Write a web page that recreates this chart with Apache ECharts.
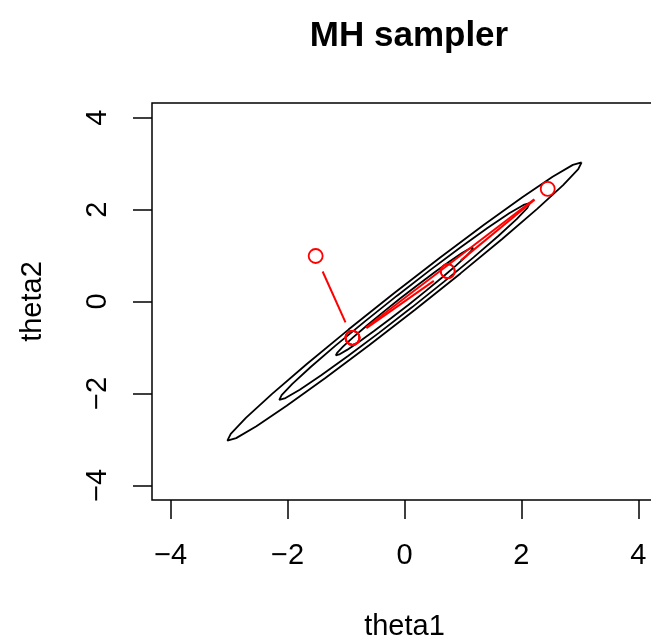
<!DOCTYPE html>
<html>
<head>
<meta charset="utf-8">
<script src="https://cdn.jsdelivr.net/npm/echarts@6/dist/echarts.min.js"></script>
<style>
  html, body { margin: 0; padding: 0; background: #fff; }
  #chart { width: 651px; height: 641px; }
</style>
</head>
<body>
<div id="chart"></div>
<script>
// tick positions shared by both axes
const tickValues = [-4, -2, 0, 2, 4]

// contour lines (50%, 90%, 99% regions)
const contourInner = [
  [1.175, 1.175], [1.117, 1.153], [0.983, 1.053], [0.782, 0.88], [0.527, 0.648], [0.237, 0.371],
  [-0.07, 0.07], [-0.371, -0.237], [-0.648, -0.527], [-0.88, -0.782], [-1.053, -0.983], [-1.153, -1.117],
  [-1.175, -1.175], [-1.117, -1.153], [-0.983, -1.053], [-0.782, -0.88], [-0.527, -0.648], [-0.237, -0.371],
  [0.07, -0.07], [0.371, 0.237], [0.648, 0.527], [0.88, 0.782], [1.053, 0.983], [1.153, 1.117],
  [1.175, 1.175]
]
const contourMiddle = [
  [2.142, 2.142], [2.036, 2.102], [1.792, 1.919], [1.425, 1.605], [0.961, 1.181], [0.432, 0.677],
  [-0.127, 0.127], [-0.677, -0.432], [-1.181, -0.961], [-1.605, -1.425], [-1.919, -1.792], [-2.102, -2.036],
  [-2.142, -2.142], [-2.036, -2.102], [-1.792, -1.919], [-1.425, -1.605], [-0.961, -1.181], [-0.432, -0.677],
  [0.127, -0.127], [0.677, 0.432], [1.181, 0.961], [1.605, 1.425], [1.919, 1.792], [2.102, 2.036],
  [2.142, 2.142]
]
const contourOuter = [
  [3.03, 3.03], [2.88, 2.973], [2.534, 2.714], [2.016, 2.27], [1.36, 1.671], [0.611, 0.958],
  [-0.18, 0.18], [-0.958, -0.611], [-1.671, -1.36], [-2.27, -2.016], [-2.714, -2.534], [-2.973, -2.88],
  [-3.03, -3.03], [-2.88, -2.973], [-2.534, -2.714], [-2.016, -2.27], [-1.36, -1.671], [-0.611, -0.958],
  [0.18, -0.18], [0.958, 0.611], [1.671, 1.36], [2.27, 2.016], [2.714, 2.534], [2.973, 2.88],
  [3.03, 3.03]
]

// MH sampler chain (repeats = rejected proposals)
const mhTheta1 = [-1.52, -0.89, -0.89, -0.89, 2.45, 0.74, 0.74, -0.89]
const mhTheta2 = [0.99, -0.79, -0.79, -0.79, 2.45, 0.66, 0.66, -0.79]

const FONT = '"Liberation Sans", Arial, Helvetica, sans-serif'
const GAP = 17 // px gap between line ends and points, like type = "b"

const chainPoints = mhTheta1.map((x, i) => [x, mhTheta2[i]])
const chainSegments = []
for (let i = 1; i < chainPoints.length; i++) {
  chainSegments.push([...chainPoints[i - 1], ...chainPoints[i]])
}

function minusLabel(v) {
  return v < 0 ? '\u2212' + Math.abs(v) : String(v)
}

function contourSeries(data) {
  return {
    type: 'line',
    data,
    z: 1,
    showSymbol: false,
    smooth: false,
    silent: true,
    lineStyle: { color: '#000', width: 1.8 },
  }
}

const chart = echarts.init(document.getElementById('chart'))

const option = {
  animation: false,
  backgroundColor: '#fff',
  title: {
    text: 'MH sampler',
    left: 404,
    top: 14,
    textAlign: 'center',
    textStyle: { fontFamily: FONT, fontSize: 35, fontWeight: 'bold', color: '#000' },
  },
  grid: {
    left: 152,
    top: 103,
    width: 505,
    height: 397,
    outerBoundsMode: 'none',
    containLabel: false,
    show: true,
    borderColor: '#000',
    borderWidth: 1.5,
    backgroundColor: 'transparent',
  },
  xAxis: {
    type: 'value',
    min: -4.32,
    max: 4.32,
    name: 'theta1',
    nameLocation: 'middle',
    nameGap: 112,
    nameTextStyle: { fontFamily: FONT, fontSize: 29, color: '#000' },
    axisLine: { show: false, onZero: false },
    axisTick: { show: true, customValues: tickValues, length: 19, lineStyle: { color: '#000', width: 1.5 } },
    axisLabel: { customValues: tickValues, margin: 41, fontFamily: FONT, fontSize: 29, color: '#000', formatter: minusLabel },
    splitLine: { show: false },
  },
  yAxis: {
    type: 'value',
    min: -4.32,
    max: 4.32,
    name: 'theta2',
    nameLocation: 'middle',
    nameGap: 105,
    nameTextStyle: { fontFamily: FONT, fontSize: 29, color: '#000' },
    axisLine: { show: false, onZero: false },
    axisTick: { show: true, customValues: tickValues, length: 19, lineStyle: { color: '#000', width: 1.5 } },
    axisLabel: { customValues: tickValues, rotate: 90, margin: 40, fontFamily: FONT, fontSize: 29, color: '#000', formatter: minusLabel },
    splitLine: { show: false },
  },
  series: [
    contourSeries(contourInner),
    contourSeries(contourMiddle),
    contourSeries(contourOuter),
    {
      type: 'custom',
      data: chainSegments,
      encode: { x: [0, 2], y: [1, 3] },
      z: 5,
      silent: true,
      renderItem(params, api) {
        const a = api.coord([api.value(0), api.value(1)])
        const b = api.coord([api.value(2), api.value(3)])
        const dx = b[0] - a[0]
        const dy = b[1] - a[1]
        const len = Math.hypot(dx, dy)
        if (len <= 2 * GAP) return null
        const ux = dx / len
        const uy = dy / len
        return {
          type: 'line',
          shape: {
            x1: a[0] + ux * GAP,
            y1: a[1] + uy * GAP,
            x2: b[0] - ux * GAP,
            y2: b[1] - uy * GAP,
          },
          style: { stroke: '#ff0000', lineWidth: 2 },
        }
      },
    },
    {
      type: 'scatter',
      data: chainPoints,
      z: 6,
      symbol: 'circle',
      symbolSize: 14,
      silent: true,
      itemStyle: { color: 'transparent', borderColor: '#ff0000', borderWidth: 1.8, opacity: 1 },
    },
  ],
}

chart.setOption(option)
</script>
</body>
</html>
